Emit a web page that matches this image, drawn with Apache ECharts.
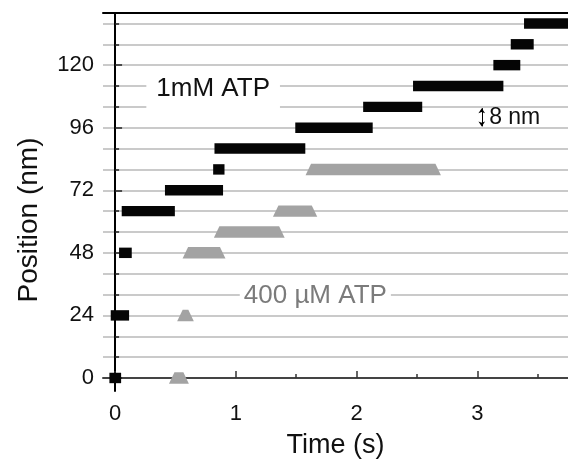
<!DOCTYPE html>
<html>
<head>
<meta charset="utf-8">
<script src="https://cdn.jsdelivr.net/npm/echarts@6/dist/echarts.min.js"></script>
<style>html,body{margin:0;padding:0;background:#fff;}#c{width:568px;height:464px;}</style>
</head>
<body>
<div id="c"></div>
<script>
// ---- data ----
// 1 mM ATP dwells (black bars): position (nm), start / end time (s)
const blackPos   = [0, 24, 48, 64, 72, 80, 88, 96, 104, 112, 120, 128, 136];
const blackStart = [-0.047, -0.036, 0.033, 0.055, 0.413, 0.812, 0.823, 1.492, 2.054, 2.467, 3.132, 3.276, 3.386];
const blackEnd   = [0.050, 0.116, 0.138, 0.495, 0.894, 0.906, 1.575, 2.133, 2.543, 3.215, 3.355, 3.466, 3.800];
// 400 uM ATP dwells (gray trapezoids)
const grayPos   = [0, 24, 48, 56, 64, 80];
const grayStart = [0.446, 0.514, 0.559, 0.818, 1.307, 1.577];
const grayEnd   = [0.611, 0.652, 0.914, 1.404, 1.674, 2.698];
// ticks
const xMajorTicks = [0, 1, 2, 3];
const xMinorTicks = [0.5, 1.5, 2.5, 3.5];
const yMajorTicks = [0, 24, 48, 72, 96, 120];
const yMinorTicks = [0, 8, 16, 24, 32, 40, 48, 56, 64, 72, 80, 88, 96, 104, 112, 120, 128, 136];
// annotations
const noteText = ['1mM ATP', '400 \u00b5M ATP', '8 nm'];
const noteX = [0.812, 1.658, 3.097];
const noteY = [110.9, 31.4, 100];
const scaleBarX = 3.036;
const scaleBarY = [96.5, 103.5];

const FONT = "'Liberation Sans', Arial, Helvetica, sans-serif";
const X_MIN = -0.1, X_MAX = 3.75, Y_MIN = -5, Y_MAX = 140;

const chart = echarts.init(document.getElementById('c'), null, {renderer: 'canvas'});

const blackData = blackPos.map((p, i) => [blackStart[i], blackEnd[i], p]);
const grayData = grayPos.map((p, i) => [grayStart[i], grayEnd[i], p]);
const noteData = noteText.map((t, i) => [noteX[i], noteY[i], i]);

const option = {
  animation: false,
  backgroundColor: '#fff',
  grid: {left: 103, right: 0, top: 13, bottom: 69, containLabel: false},
  xAxis: [
    {
      type: 'value', min: X_MIN, max: X_MAX, position: 'bottom',
      axisLine: {show: true, lineStyle: {color: '#444', width: 2}},
      axisTick: {show: true, inside: true, length: 7, customValues: xMajorTicks, lineStyle: {color: '#333', width: 1.5}},
      axisLabel: {show: true, customValues: xMajorTicks, fontSize: 22, color: '#111', fontFamily: FONT, margin: 12},
      splitLine: {show: false},
      name: 'Time (s)', nameLocation: 'middle', nameGap: 41,
      nameTextStyle: {fontSize: 27, color: '#111', fontFamily: FONT}
    },
    {
      type: 'value', min: X_MIN, max: X_MAX, position: 'bottom',
      axisLine: {show: false},
      axisTick: {show: true, inside: true, length: 4, customValues: xMinorTicks, lineStyle: {color: '#333', width: 1.5}},
      axisLabel: {show: false},
      splitLine: {show: false}
    },
    {
      type: 'value', min: X_MIN, max: X_MAX, position: 'top',
      axisLine: {show: true, lineStyle: {color: '#000', width: 2}},
      axisTick: {show: false}, axisLabel: {show: false}, splitLine: {show: false}
    }
  ],
  yAxis: [
    {
      type: 'value', min: Y_MIN, max: Y_MAX, position: 'left',
      axisLine: {show: true, lineStyle: {color: '#000', width: 2}},
      axisTick: {show: true, inside: true, length: 7, customValues: yMajorTicks, lineStyle: {color: '#222', width: 1.5}},
      axisLabel: {show: true, customValues: yMajorTicks, fontSize: 22, color: '#111', fontFamily: FONT, margin: 9},
      splitLine: {show: false},
      name: 'Position (nm)', nameLocation: 'middle', nameGap: 60,
      nameTextStyle: {fontSize: 28, color: '#111', fontFamily: FONT, padding: [0, 36, 0, 0]}
    },
    {
      type: 'value', min: Y_MIN, max: Y_MAX, position: 'left',
      axisLine: {show: false},
      axisTick: {show: true, inside: true, length: 4, customValues: yMinorTicks, lineStyle: {color: '#222', width: 1.5}},
      axisLabel: {show: false},
      splitLine: {show: true, lineStyle: {color: '#b8b8b8', width: 1.5}}
    }
  ],
  series: [
    {
      type: 'custom', name: '1mM ATP', xAxisIndex: 0, yAxisIndex: 0, clip: true,
      data: blackData,
      renderItem: function (params, api) {
        const a = api.coord([api.value(0), api.value(2) + 2]);
        const b = api.coord([api.value(1), api.value(2) - 2]);
        return {type: 'rect', shape: {x: a[0], y: a[1], width: b[0] - a[0], height: b[1] - a[1]}, style: {fill: '#050505'}};
      },
      z: 3
    },
    {
      type: 'custom', name: '400 uM ATP', xAxisIndex: 0, yAxisIndex: 0, clip: true,
      data: grayData,
      renderItem: function (params, api) {
        const bl = api.coord([api.value(0), api.value(2) - 2.2]);
        const br = api.coord([api.value(1), api.value(2) - 2.2]);
        const tl = api.coord([api.value(0), api.value(2) + 2.2]);
        const tr = api.coord([api.value(1), api.value(2) + 2.2]);
        const inset = 5.5;
        return {
          type: 'polygon',
          shape: {points: [[bl[0], bl[1]], [br[0], br[1]], [tr[0] - inset, tr[1]], [tl[0] + inset, tl[1]]]},
          style: {fill: '#a3a3a3'}
        };
      },
      z: 3
    },
    {
      type: 'custom', name: 'notes', xAxisIndex: 0, yAxisIndex: 0, clip: false,
      data: noteData,
      renderItem: function (params, api) {
        const i = api.value(2);
        const p = api.coord([api.value(0), api.value(1)]);
        const styles = [
          {fill: '#111', font: '26px ' + FONT, align: 'center', verticalAlign: 'middle', backgroundColor: '#fff', padding: [8, 10, 10, 10]},
          {fill: '#7b7b7b', font: '26px ' + FONT, align: 'center', verticalAlign: 'middle', backgroundColor: '#fff', padding: [2, 4, 2, 4]},
          {fill: '#111', font: '23px ' + FONT, align: 'left', verticalAlign: 'middle'}
        ];
        const s = Object.assign({text: noteText[i]}, styles[i]);
        return {type: 'text', x: p[0], y: p[1], style: s};
      },
      markLine: {
        silent: true,
        symbol: ['arrow', 'arrow'],
        symbolSize: [5, 5],
        lineStyle: {color: '#000', width: 1, type: 'solid'},
        label: {show: false},
        data: [[{coord: [scaleBarX, scaleBarY[0]]}, {coord: [scaleBarX, scaleBarY[1]]}]]
      },
      z: 4
    }
  ]
};
chart.setOption(option);
</script>
</body>
</html>
